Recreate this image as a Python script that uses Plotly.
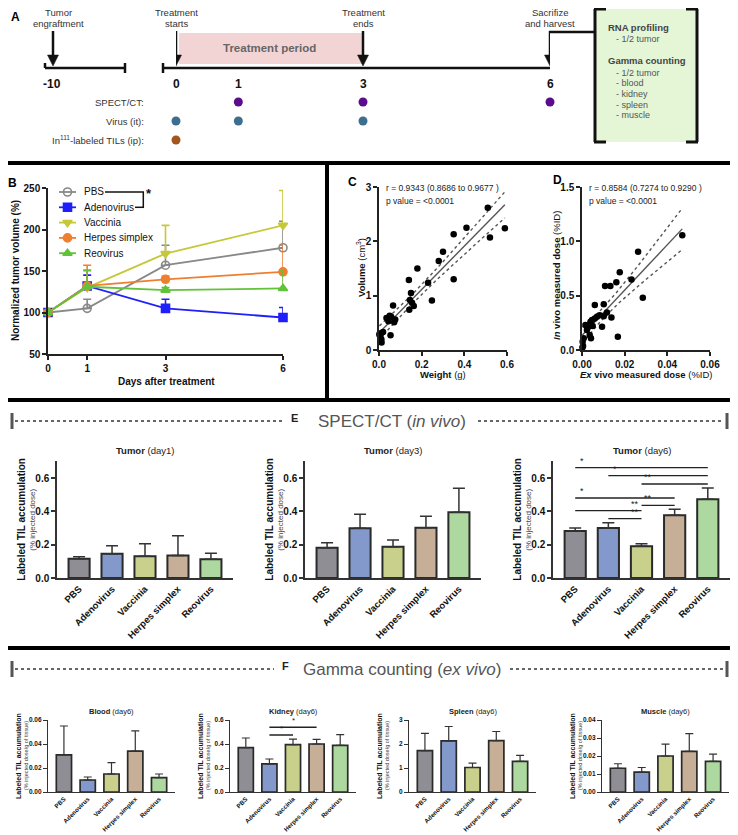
import numpy as np
import plotly.graph_objects as go

# page is photographed with an 8px body margin, so the figure is drawn 8px in
OFF = 8
W, H = 738 - OFF, 835 - OFF
FONT = "Liberation Sans, Arial, sans-serif"


def X(px):
    return (px - OFF) / W


def Y(py):
    return 1 - (py - OFF) / H


# =========================
# DATA
# =========================
# panel A - schedule (days after treatment start)
timeline_days = [0, 1, 3, 6]
spect_days = [1, 3, 6]
virus_days = [0, 1, 3]
til_days = [0]
schedule_rows = ["SPECT/CT:", "Virus (it):", "In<sup>111</sup>-labeled TILs (ip):"]
box_items_rna = ["- 1/2 tumor"]
box_items_gamma = ["- 1/2 tumor", "- blood", "- kidney", "- spleen", "- muscle"]

# panel B - tumor volume
b_days = [0, 1, 3, 6]
b_names = ["PBS", "Adenovirus", "Vaccinia", "Herpes simplex", "Reovirus"]
vol_pbs = [100, 105, 157, 178]
vol_adeno = [100, 132, 105, 94]
vol_vacc = [100, 130, 171, 205]
vol_hsv = [100, 132, 140, 149]
vol_reo = [100, 131, 127, 129]
err_pbs = [0, 11, 24, 32]
err_adeno = [0, 13, 11, 12]
err_vacc = [0, 20, 34, 42]
err_hsv = [0, 25, 4, 32]
err_reo = [0, 20, 3, 21]

# panel C - weight vs volume
weight = [0.51, 0.41, 0.59, 0.52, 0.35, 0.30, 0.28, 0.18, 0.14, 0.35, 0.23, 0.15, 0.145, 0.155,
          0.163, 0.142, 0.248, 0.066, 0.05, 0.057, 0.035, 0.044, 0.076, 0.071, 0.054, 0.019,
          0.003, 0.006, 0.011, 0.008, 0.002, 0.012, 0.01]
volume = [2.62, 2.25, 2.24, 2.07, 2.13, 1.81, 1.64, 1.50, 1.29, 1.30, 1.24, 1.05, 0.92, 0.87,
          0.81, 0.74, 0.91, 0.82, 0.63, 0.61, 0.59, 0.53, 0.56, 0.51, 0.27, 0.33,
          0.30, 0.25, 0.20, 0.17, 0.28, 0.14, 0.31]

# panel D - ex vivo vs in vivo dose
ex_vivo = [0.047, 0.0263, 0.0285, 0.0232, 0.0177, 0.0161, 0.0108, 0.0133, 0.0102, 0.006,
           0.0168, 0.0138, 0.0117, 0.0094, 0.0102, 0.0083, 0.007, 0.006, 0.0047, 0.004,
           0.0031, 0.0016, 0.0023, 0.0036, 0.0042, 0.0008, 0.0003, 0.0005, 0.0002, 0.005]
in_vivo = [1.056, 0.903, 0.48, 0.649, 0.716, 0.624, 0.59, 0.588, 0.42, 0.413,
           0.122, 0.30, 0.346, 0.214, 0.31, 0.32, 0.306, 0.29, 0.275, 0.26,
           0.214, 0.23, 0.184, 0.138, 0.107, 0.107, 0.077, 0.037, 0.024, 0.22]
r_text_c = ["r = 0.9343 (0.8686 to 0.9677 )", "p value = <0.0001"]
r_text_d = ["r = 0.8584 (0.7274 to 0.9290 )", "p value = <0.0001"]

# panel E - SPECT/CT tumor accumulation
viruses = ["PBS", "Adenovirus", "Vaccinia", "Herpes simplex", "Reovirus"]
bar_colors = ["#8e8e94", "#8499cb", "#c9d08c", "#c6ae97", "#add89f"]
til_day1 = [0.115, 0.145, 0.13, 0.135, 0.112]
til_day1_err = [0.012, 0.048, 0.075, 0.118, 0.036]
til_day3 = [0.182, 0.298, 0.188, 0.302, 0.394]
til_day3_err = [0.03, 0.085, 0.04, 0.068, 0.145]
til_day6 = [0.282, 0.300, 0.190, 0.377, 0.472]
til_day6_err = [0.018, 0.032, 0.016, 0.036, 0.068]
# (group i, group j, label, bracket level)
sig_day6 = [(0, 4, "*", 0.662), (1, 4, "*", 0.614), (2, 4, "**", 0.564), (0, 3, "*", 0.48),
            (2, 3, "**", 0.436), (0, 2, "**", 0.404), (1, 2, "**", 0.356)]

# panel F - gamma counting
blood = [0.031, 0.010, 0.015, 0.034, 0.012]
blood_err = [0.024, 0.0025, 0.0095, 0.017, 0.003]
kidney = [0.37, 0.235, 0.395, 0.40, 0.388]
kidney_err = [0.08, 0.04, 0.045, 0.038, 0.09]
spleen = [1.72, 2.13, 1.02, 2.14, 1.28]
spleen_err = [0.72, 0.6, 0.18, 0.38, 0.25]
muscle = [0.0132, 0.0110, 0.0200, 0.0226, 0.0170]
muscle_err = [0.0025, 0.0026, 0.0066, 0.0098, 0.004]
sig_kidney = [(1, 3, "*", 0.54), (1, 2, "*", 0.475)]

fig = go.Figure()
ann = []
shp = []
axes = {}


def text(x, y, s, size=10, color="#222", xanchor="center", yanchor="middle",
         xref="paper", yref="paper", angle=0):
    ann.append(dict(x=x, y=y, xref=xref, yref=yref, text=s, showarrow=False,
                    xanchor=xanchor, yanchor=yanchor, textangle=angle,
                    font=dict(family=FONT, size=size, color=color)))


def pline(x0, y0, x1, y1, color="#111", width=2, dash=None):
    shp.append(dict(type="line", xref="paper", yref="paper", x0=X(x0), y0=Y(y0),
                    x1=X(x1), y1=Y(y1), line=dict(color=color, width=width, dash=dash)))


def arrow(x, y_top, y_tip, xref="paper"):
    # shaft + filled head, head drawn in pixel offsets from the tip
    shp.append(dict(type="line", xref=xref, yref="paper", x0=x, x1=x, y0=Y(y_top), y1=Y(y_tip - 8),
                    line=dict(color="#111", width=2.5)))
    shp.append(dict(type="path", xref=xref, yref="paper", xsizemode="pixel", ysizemode="pixel",
                    xanchor=x, yanchor=Y(y_tip), path="M -5.5,11 L 5.5,11 L 0,0 Z",
                    fillcolor="#111", line=dict(color="#111", width=0.5)))


def ax_style(size=10, lw=1.5, color="#222"):
    return dict(showline=True, linecolor=color, linewidth=lw, ticks="outside", ticklen=4,
                tickwidth=lw, tickcolor=color, showgrid=False, zeroline=False, automargin=False,
                tickfont=dict(family=FONT, size=size, color="#111", weight="bold"))


HIDDEN = dict(visible=False, automargin=False, showgrid=False, zeroline=False)


def set_axes(n, xdom, ydom, xkw, ykw):
    xs = "" if n == 1 else str(n)
    axes["xaxis" + xs] = dict(domain=[X(xdom[0]), X(xdom[1])], anchor="y" + xs, **xkw)
    axes["yaxis" + xs] = dict(domain=[Y(ydom[1]), Y(ydom[0])], anchor="x" + xs, **ykw)
    return "x" + xs, "y" + xs


# =========================
# PANEL A
# =========================
row_y = [102, 121, 140]
xa, ya = set_axes(1, (176, 550), (row_y[0] - 9.5, row_y[2] + 9.5),
                  dict(range=[0, 6], **HIDDEN),
                  dict(range=[2.5, -0.5], **HIDDEN))
for row, (days, col) in enumerate([(spect_days, "#5a0c8c"), (virus_days, "#3d6e8e"),
                                   (til_days, "#a2561d")]):
    fig.add_trace(go.Scatter(x=days, y=[row] * len(days), mode="markers",
                             marker=dict(size=9, color=col), xaxis=xa, yaxis=ya,
                             cliponaxis=False, showlegend=False, hoverinfo="skip"))
    text(X(146), row, schedule_rows[row], size=9.5, color="#333", xanchor="right", yref=ya)

text(X(15), Y(17), "<b>A</b>", size=12, color="#000")
shp.append(dict(type="rect", xref=xa, yref="paper", x0=0.05, x1=3, y0=Y(64), y1=Y(33),
                fillcolor="#f3d4d4", line=dict(width=0), layer="below"))
text(1.5, Y(48), "<b>Treatment period</b>", size=11.5, color="#666", xref=xa)

# timeline
pline(45, 68, 125, 68, width=2.5)
pline(45, 63, 45, 68, width=2.5)
pline(125, 63, 125, 73, width=2.5)
pline(163, 68, 550, 68, width=2.5)
pline(163, 63, 163, 73, width=2.5)
text(X(52), Y(84), "<b>-10</b>", size=12, color="#111")
for d in timeline_days:
    text(d, Y(84), "<b>%d</b>" % d, size=12, color="#111", xref=xa)

arrow(X(53), 31, 66)
for d in [0, 3, 6]:
    arrow(d, 31, 66, xref=xa)
for lx, lines, xr in [(X(58), ["Tumor", "engraftment"], "paper"), (0, ["Treatment", "starts"], xa),
                      (3, ["Treatment", "ends"], xa), (6, ["Sacrifize", "and harvest"], xa)]:
    text(lx, Y(12.5), lines[0], size=9.5, color="#333", xref=xr)
    text(lx, Y(24), lines[1], size=9.5, color="#333", xref=xr)

# harvest box
shp.append(dict(type="rect", xref="paper", yref="paper", x0=X(595), x1=X(697), y0=Y(142),
                y1=Y(9), fillcolor="#e4f6d6", line=dict(width=0), layer="below"))
pline(595, 9, 595, 142, width=3)
pline(594, 9, 606, 9, width=3)
pline(594, 142, 606, 142, width=3)
pline(697, 9, 697, 142, width=3)
pline(686, 9, 698, 9, width=3)
pline(686, 142, 698, 142, width=3)
pline(595, 32, 549, 32, width=2.5)
text(X(606), Y(28), "<b>RNA profiling</b>", size=9.5, color="#444", xanchor="left")
for k, item in enumerate(box_items_rna):
    text(X(614), Y(39.5 + 11 * k), item, size=9, color="#555", xanchor="left")
text(X(606), Y(61), "<b>Gamma counting</b>", size=9.5, color="#444", xanchor="left")
for k, item in enumerate(box_items_gamma):
    text(X(614), Y(72.5 + 10.7 * k), item, size=9, color="#555", xanchor="left")

# separators
pline(0, 163, 738, 163, width=4, color="#000")
pline(327, 163, 327, 400, width=4, color="#000")
pline(0, 400, 738, 400, width=4, color="#000")
pline(0, 648, 738, 648, width=4, color="#000")

# =========================
# PANEL B
# =========================
b_series = [
    (vol_pbs, err_pbs, "#888888", "circle-open"),
    (vol_adeno, err_adeno, "#1f1ffa", "square"),
    (vol_vacc, err_vacc, "#c6c83a", "triangle-down"),
    (vol_hsv, err_hsv, "#ee7f30", "circle"),
    (vol_reo, err_reo, "#62c23a", "triangle-up"),
]
xb, yb = set_axes(2, (48, 283), (188, 354),
                  dict(range=[0, 6], tickvals=b_days, **ax_style(10)),
                  dict(range=[50, 250], dtick=50, **ax_style(10)))
for vals, errs, col, sym in b_series:
    fig.add_trace(go.Scatter(
        x=b_days, y=vals, mode="lines+markers", xaxis=xb, yaxis=yb, cliponaxis=False,
        line=dict(color=col, width=1.8),
        marker=dict(symbol=sym, size=8, color=col, line=dict(color=col, width=1.6)),
        error_y=dict(type="data", symmetric=False, array=errs, arrayminus=[0] * len(errs),
                     color=col, thickness=1.6, width=4),
        showlegend=False, hoverinfo="skip"))
text(X(12), Y(183), "<b>B</b>", size=12, color="#000")
text(X(15), Y(271), "<b>Normalized tumor volume (%)</b>", size=10, color="#111", angle=-90)
text(X(166), Y(381), "<b>Days after treatment</b>", size=10, color="#111")

# manual legend
xo, yo = set_axes(12, (OFF, 738), (OFF, 835),
                  dict(range=[OFF, 738], **HIDDEN), dict(range=[835, OFF], **HIDDEN))
for k, (vals, errs, col, sym) in enumerate(b_series):
    ly = 192 + 15.3 * k
    pline(59, ly, 76, ly, color=col, width=1.8)
    fig.add_trace(go.Scatter(x=[67.5], y=[ly], mode="markers", xaxis=xo, yaxis=yo,
                             marker=dict(symbol=sym, size=8, color=col, line=dict(color=col, width=1.6)),
                             showlegend=False, hoverinfo="skip"))
    text(X(82), Y(ly), b_names[k], size=10, color="#111", xanchor="left")
pline(105, 192, 144, 192, width=1.5)
pline(143.3, 192, 143.3, 208, width=1.5)
pline(135, 207.3, 144, 207.3, width=1.5)
text(X(149), Y(193), "<b>*</b>", size=13, color="#111")


# =========================
# PANELS C / D
# =========================
def scatter_fit(n, xdom, xs, ys, xrange, yrange, xdt, ydt, xfmt, yfmt):
    xa_, ya_ = set_axes(n, xdom, (187, 350),
                        dict(range=xrange, dtick=xdt, tickformat=xfmt, **ax_style(10)),
                        dict(range=yrange, dtick=ydt, tickformat=yfmt, **ax_style(10)))
    xv = np.array(xs)
    yv = np.array(ys)
    slope, icpt = np.polyfit(xv, yv, 1)
    grid = np.linspace(xv.min(), xv.max(), 60)
    fit = slope * grid + icpt
    resid = yv - (slope * xv + icpt)
    s = np.sqrt((resid ** 2).sum() / (len(xv) - 2))
    sxx = ((xv - xv.mean()) ** 2).sum()
    band = 2.04 * s * np.sqrt(1 / len(xv) + (grid - xv.mean()) ** 2 / sxx)
    for yy, dash in [(fit, None), (fit + band, "dot"), (fit - band, "dot")]:
        fig.add_trace(go.Scatter(x=grid, y=yy, mode="lines", xaxis=xa_, yaxis=ya_,
                                 line=dict(color="#555", width=1.4, dash=dash),
                                 showlegend=False, hoverinfo="skip"))
    fig.add_trace(go.Scatter(x=xs, y=ys, mode="markers", xaxis=xa_, yaxis=ya_, cliponaxis=False,
                             marker=dict(size=6.5, color="#000"), showlegend=False, hoverinfo="skip"))
    return xa_, ya_


scatter_fit(3, (379, 507), weight, volume, [0, 0.6], [0, 3], 0.2, 1, ".1f", "d")
scatter_fit(4, (582, 710), ex_vivo, in_vivo, [0, 0.06], [0, 1.5], 0.02, 0.5, ".2f", ".1f")
text(X(352), Y(182), "<b>C</b>", size=12, color="#000")
text(X(557), Y(180), "<b>D</b>", size=12, color="#000")
for k in range(2):
    text(X(384), Y(188 + 13 * k), r_text_c[k], size=8.5, color="#222", xanchor="left")
    text(X(587), Y(188 + 13 * k), r_text_d[k], size=8.5, color="#222", xanchor="left")
text(X(361), Y(268), "<b>Volume</b> (cm<sup>3</sup>)", size=9.5, color="#111", angle=-90)
text(X(443), Y(374), "<b>Weight</b> (g)", size=9.5, color="#111")
text(X(556), Y(276), "<b><i>In</i> vivo measured dose</b> (%ID)", size=9.5, color="#111", angle=-90)
text(X(646), Y(374), "<b><i>Ex</i> vivo measured dose</b> (%ID)", size=9.5, color="#111")


# =========================
# SECTION HEADERS
# =========================
def header(y, letter, lx, label, cx, left_end, right_start):
    pline(12, y - 8, 12, y + 8, color="#555", width=3)
    pline(727, y - 8, 727, y + 8, color="#555", width=3)
    pline(15, y, left_end, y, color="#666", width=1.8, dash="dot")
    pline(right_start, y, 724, y, color="#666", width=1.8, dash="dot")
    text(X(lx), Y(y - 3), "<b>%s</b>" % letter, size=11, color="#222")
    text(X(cx), Y(y), label, size=17, color="#555")


header(421, "E", 294, "SPECT/CT (<i>in vivo</i>)", 392, 284, 478)
header(669, "F", 285, "Gamma counting (<i>ex vivo</i>)", 402, 274, 510)


# =========================
# BAR PANELS
# =========================
def bar_panel(n, xdom, ydom, vals, errs, yrange, ytick, yfmt, tsize, lsize, lw, cap,
              title, title_y, tt_size, ylab_sub, ylab_size, sub_size, ylab_dx):
    xa_, ya_ = set_axes(n, xdom, ydom,
                        dict(type="category", range=[-0.67, 4.67], tickangle=-45,
                             **{**ax_style(lsize, lw=lw, color="#333"), "ticks": ""}),
                        dict(range=yrange, dtick=ytick, tickformat=yfmt,
                             **ax_style(tsize, lw=lw, color="#333")))
    fig.add_trace(go.Bar(
        x=viruses, y=vals, width=0.64, xaxis=xa_, yaxis=ya_,
        marker=dict(color=bar_colors, line=dict(color="#2a2a2a", width=lw + 0.5)),
        error_y=dict(type="data", symmetric=False, array=errs, arrayminus=[0] * len(errs),
                     color="#333", thickness=lw, width=cap),
        showlegend=False, hoverinfo="skip"))
    cx = (xdom[0] + xdom[1]) / 2
    text(X(cx), Y(title_y), title, size=tt_size, color="#222")
    cy = (ydom[0] + ydom[1]) / 2
    text(X(xdom[0] - ylab_dx), Y(cy), "<b>Labeled TIL accumulation</b>", size=ylab_size,
         color="#111", angle=-90)
    text(X(xdom[0] - ylab_dx + ylab_size + 1), Y(cy), ylab_sub, size=sub_size, color="#444",
         angle=-90)
    return xa_, ya_


e_top = 578 - 0.7 * (100 / 0.6)
bar_panel(5, (57, 233), (e_top, 578), til_day1, til_day1_err, [0, 0.7], 0.2, ".1f", 10, 9.5, 1.5, 6,
          "<b>Tumor</b> (day1)", 450, 9.5, "(% injected dose)", 10, 8, 35)
bar_panel(6, (305, 481), (e_top, 578), til_day3, til_day3_err, [0, 0.7], 0.2, ".1f", 10, 9.5, 1.5, 6,
          "<b>Tumor</b> (day3)", 450, 9.5, "(% injected dose)", 10, 8, 35)
xe6, ye6 = bar_panel(7, (553, 730), (e_top, 578), til_day6, til_day6_err, [0, 0.7], 0.2, ".1f",
                     10, 9.5, 1.5, 6, "<b>Tumor</b> (day6)", 450, 9.5, "(% injected dose)", 10, 8, 35)
for i, j, lab, lvl in sig_day6:
    shp.append(dict(type="line", xref=xe6, yref=ye6, x0=i, x1=j, y0=lvl, y1=lvl,
                    line=dict(color="#222", width=1.3)))
    sx = j - 0.2 if j == 2 else i + 0.2
    text(sx, lvl, lab, size=9, color="#222", xref=xe6, yref=ye6, yanchor="bottom")

f_sub = "(% injected dose/g of tissue)"
f_top, f_bot = 720, 792
f_args = dict(tsize=6.5, lsize=6.2, lw=1.2, cap=4, title_y=711, tt_size=7.5, ylab_sub=f_sub,
              ylab_size=7, sub_size=5.5, ylab_dx=30)
bar_panel(8, (48, 175), (f_top, f_bot), blood, blood_err, [0, 0.06], 0.02, ".2f",
          title="<b>Blood</b> (day6)", **f_args)
xk, yk = bar_panel(9, (230, 356), (f_top, f_bot), kidney, kidney_err, [0, 0.6], 0.2, ".1f",
                   title="<b>Kidney</b> (day6)", **f_args)
bar_panel(10, (409, 536), (f_top, f_bot), spleen, spleen_err, [0, 3], 1, "d",
          title="<b>Spleen</b> (day6)", **f_args)
bar_panel(11, (602, 729), (f_top, f_bot), muscle, muscle_err, [0, 0.04], 0.01, ".2f",
          title="<b>Muscle</b> (day6)", **f_args)
for i, j, lab, lvl in sig_kidney:
    shp.append(dict(type="line", xref=xk, yref=yk, x0=i, x1=j, y0=lvl, y1=lvl,
                    line=dict(color="#222", width=1.5)))
    text((i + j) / 2, lvl, lab, size=8, color="#222", xref=xk, yref=yk, yanchor="bottom")

# =========================
# LAYOUT
# =========================
fig.update_layout(
    template="none",
    width=W, height=H,
    margin=dict(l=0, r=0, t=0, b=0, pad=0, autoexpand=False),
    paper_bgcolor="white", plot_bgcolor="rgba(0,0,0,0)",
    showlegend=False, bargap=0.36,
    font=dict(family=FONT, color="#222"),
    annotations=ann, shapes=shp,
    **axes,
)

fig.write_html("out.html")
